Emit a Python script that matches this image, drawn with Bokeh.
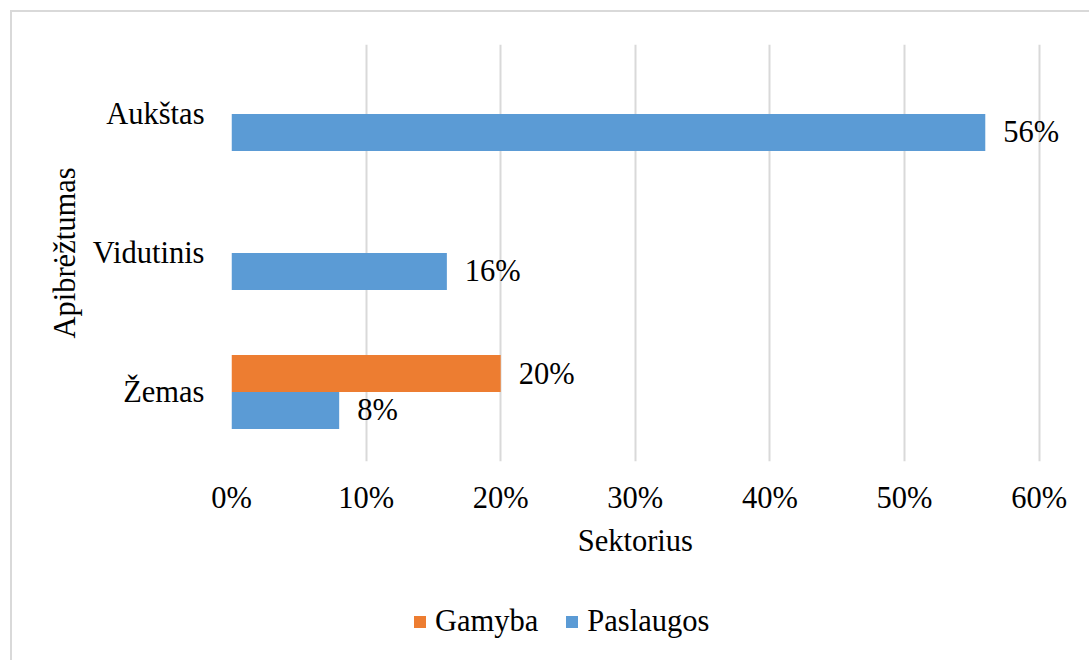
from bokeh.plotting import figure
from bokeh.layouts import column
from bokeh.models import ColumnDataSource, FixedTicker, NumeralTickFormatter, Legend, LegendItem, FactorRange, Range1d
from bokeh.transform import dodge
from bokeh.embed import file_html
from bokeh.resources import INLINE

categories = ["Žemas", "Vidutinis", "Aukštas"]
series_names = ["Gamyba", "Paslaugos"]
gamyba = [0.20, 0.0, 0.0]
paslaugos = [0.08, 0.16, 0.56]
x_ticks = [0.0, 0.1, 0.2, 0.3, 0.4, 0.5, 0.6]
x_title = "Sektorius"
y_title = "Apibrėžtumas"

FONT = "Liberation Serif"
FS = "30.5px"
ORANGE = "#ED7D31"
BLUE = "#5B9BD5"
GRID = "#d9d9d9"

src = ColumnDataSource(dict(
    cat=categories,
    gamyba=gamyba,
    paslaugos=paslaugos,
    g_lab=[f"{v*100:.0f}%" if v > 0 else "" for v in gamyba],
    p_lab=[f"{v*100:.0f}%" if v > 0 else "" for v in paslaugos],
))

xr = Range1d(0, 0.63)
p = figure(width=1077, height=508, y_range=FactorRange(*categories), x_range=xr,
           output_backend="svg", toolbar_location=None,
           min_border_left=219, min_border_right=10, min_border_top=32, min_border_bottom=59)
p.outline_line_color = None
p.background_fill_color = "white"
p.border_fill_color = "white"

off = 0.133
bh = 0.266
p.hbar(y=dodge("cat", off, range=p.y_range), right="gamyba", left=0, height=bh,
       fill_color=ORANGE, line_color=None, source=src)
p.hbar(y=dodge("cat", -off, range=p.y_range), right="paslaugos", left=0, height=bh,
       fill_color=BLUE, line_color=None, source=src)

p.text(x="gamyba", y=dodge("cat", off, range=p.y_range), text="g_lab", source=src,
       x_offset=18, text_align="left", text_baseline="middle",
       text_font={"value": FONT}, text_font_size={"value": FS}, text_color="black")
p.text(x="paslaugos", y=dodge("cat", -off, range=p.y_range), text="p_lab", source=src,
       x_offset=18, text_align="left", text_baseline="middle",
       text_font={"value": FONT}, text_font_size={"value": FS}, text_color="black")

p.xaxis.ticker = FixedTicker(ticks=x_ticks)
p.xaxis.formatter = NumeralTickFormatter(format="0%")
p.xgrid.ticker = FixedTicker(ticks=x_ticks)
p.xgrid.grid_line_color = GRID
p.xgrid.grid_line_width = 2
p.ygrid.grid_line_color = None

for ax in (p.xaxis[0], p.yaxis[0]):
    ax.axis_line_color = None
    ax.major_tick_line_color = None
    ax.minor_tick_line_color = None
    ax.major_tick_out = 0
    ax.major_tick_in = 0
    ax.major_label_text_font = FONT
    ax.major_label_text_font_size = FS
    ax.major_label_text_color = "black"
    ax.axis_label_text_font = FONT
    ax.axis_label_text_font_size = FS
    ax.axis_label_text_font_style = "normal"
    ax.axis_label_text_color = "black"

p.xaxis.major_label_standoff = 19
p.yaxis.axis_label = y_title
p.yaxis.major_label_standoff = 27
p.yaxis.major_label_overrides = {"Aukštas": "Aukštas\u00a0"}
p.yaxis.axis_label_standoff = 8

# lower strip: x-axis title (centred on the tick span) and legend
lg = figure(width=1077, height=140, x_range=xr, y_range=(0, 1),
            output_backend="svg", toolbar_location=None,
            x_axis_type=None, y_axis_type=None,
            min_border_left=0, min_border_right=0, min_border_top=0, min_border_bottom=0)
lg.outline_line_color = None
lg.grid.grid_line_color = None
lg.background_fill_color = "white"
lg.border_fill_color = "white"

lg.text(x=[(x_ticks[0] + x_ticks[-1]) / 2], y=[1], text=[x_title], y_offset=3,
        text_align="center", text_baseline="top",
        text_font={"value": FONT}, text_font_size={"value": FS}, text_color="black")

nan = float("nan")
dummy = ColumnDataSource(dict(y=[nan], right=[nan]))
lr_g = lg.hbar(y="y", right="right", height=0.1, fill_color=ORANGE, line_color=None, source=dummy)
lr_b = lg.hbar(y="y", right="right", height=0.1, fill_color=BLUE, line_color=None, source=dummy)
legend = Legend(items=[LegendItem(label=series_names[0], renderers=[lr_g]),
                       LegendItem(label=series_names[1], renderers=[lr_b])],
                orientation="horizontal", location=(181, 21),
                label_text_font=FONT, label_text_font_size=FS, label_text_color="black",
                glyph_width=15, glyph_height=15, label_standoff=8, spacing=26,
                border_line_color=None, background_fill_alpha=0, margin=0, padding=0)
lg.add_layout(legend, "center")

layout = column(p, lg, spacing=0)
layout.styles = {"margin-left": "10px", "margin-top": "10px",
                 "border-left": f"2px solid {GRID}", "border-top": f"2px solid {GRID}"}

open("out.html", "w").write(file_html(layout, INLINE))
